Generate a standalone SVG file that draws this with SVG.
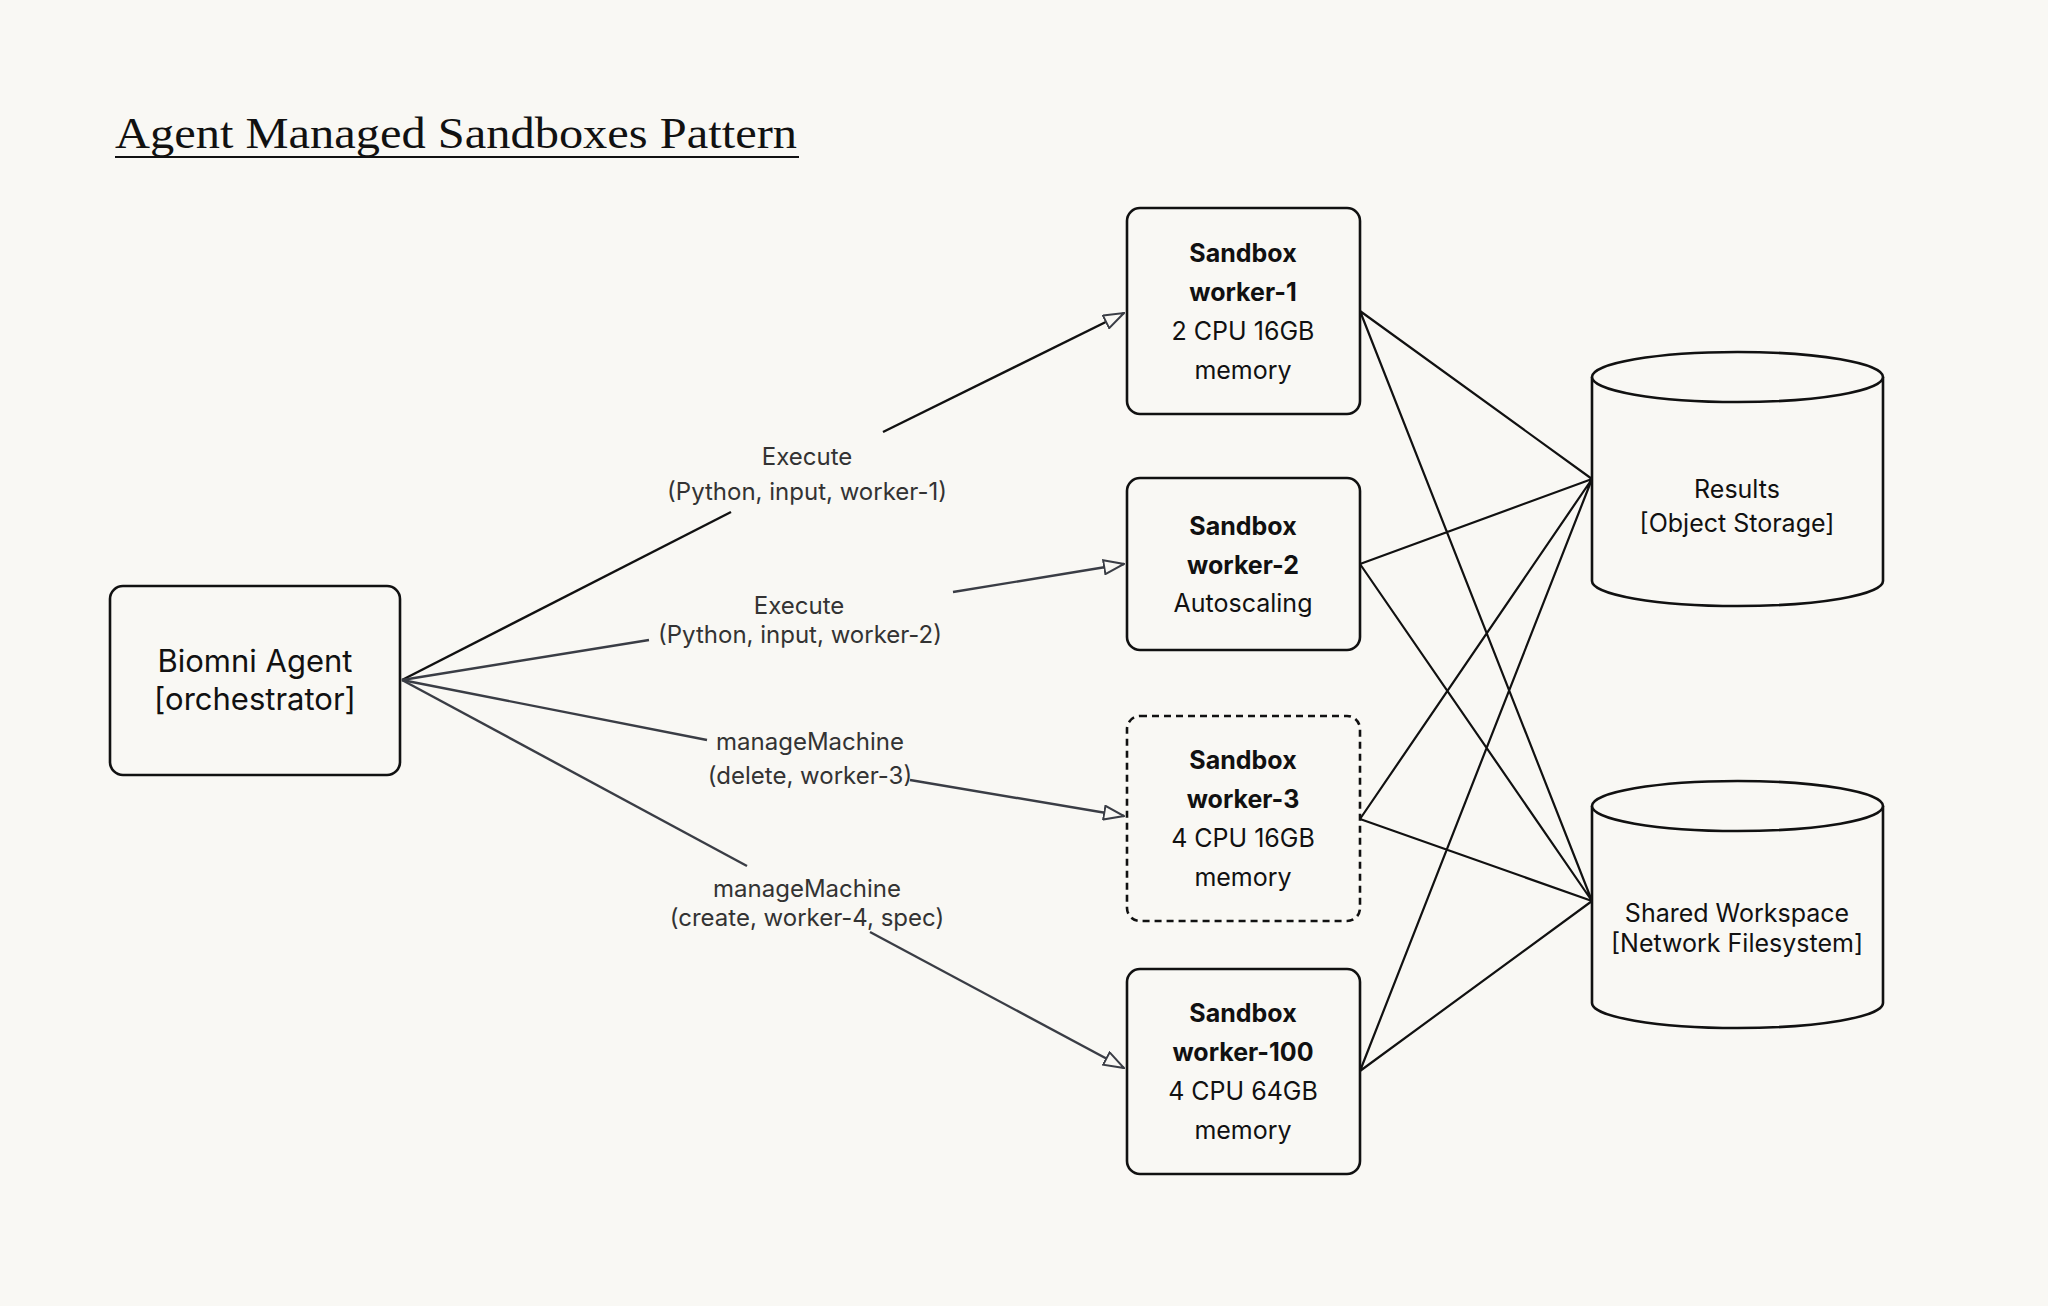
<svg xmlns="http://www.w3.org/2000/svg" width="2048" height="1306" viewBox="0 0 2048 1306">
<defs>
<style>
.box{fill:#f9f8f4;stroke:#111;stroke-width:2.6}
.t{font-family:Inter,"Liberation Sans",sans-serif;fill:#111;text-anchor:middle}
.lbl{font-family:Inter,"Liberation Sans",sans-serif;fill:#333;text-anchor:middle;font-size:24px}
.ln{stroke:#111;stroke-width:2.2;fill:none}
.ar{stroke:#3a3d45;stroke-width:2.4;fill:none}
</style>
<marker id="ah" markerWidth="22" markerHeight="16" refX="21" refY="8" orient="auto" markerUnits="userSpaceOnUse">
<path d="M1,1 L21,8 L1,15 Z" fill="#f9f8f4" stroke="#3a3d45" stroke-width="2"/>
</marker>
</defs>
<rect width="2048" height="1306" fill="#f9f8f4"/>
<g id="title">
<text x="115" y="148" font-family="'Liberation Serif','DejaVu Serif',serif" font-size="45" fill="#111" textLength="682" lengthAdjust="spacingAndGlyphs">Agent Managed Sandboxes Pattern</text>
<line x1="115" y1="157" x2="799" y2="157" stroke="#111" stroke-width="2"/>
</g>
<g id="connectors">
<path class="ar" style="stroke:#111" d="M402,680 L731,512"/>
<path class="ar" style="stroke:#111" d="M883,432 L1124,313" marker-end="url(#ah)"/>
<path class="ar" d="M402,680 L649,640"/>
<path class="ar" d="M953,592 L1124,564" marker-end="url(#ah)"/>
<path class="ar" d="M402,680 L707,740"/>
<path class="ar" d="M910,780 L1124,816" marker-end="url(#ah)"/>
<path class="ar" d="M402,680 L747,866"/>
<path class="ar" d="M870,932 L1124,1068" marker-end="url(#ah)"/>
<text class="lbl" x="807" y="465">Execute</text>
<text class="lbl" x="807" y="500">(Python, input, worker-1)</text>
<text class="lbl" x="799" y="614">Execute</text>
<text class="lbl" x="800" y="643">(Python, input, worker-2)</text>
<text class="lbl" x="810" y="750">manageMachine</text>
<text class="lbl" x="810" y="784">(delete, worker-3)</text>
<text class="lbl" x="807" y="897">manageMachine</text>
<text class="lbl" x="807" y="926">(create, worker-4, spec)</text>
<path class="ln" d="M1360,311 L1592,479 M1360,311 L1592,901 M1360,564 L1592,479 M1360,564 L1592,901 M1360,819 L1592,479 M1360,819 L1592,901 M1360,1071 L1592,479 M1360,1071 L1592,901"/>
</g>
<g id="biomni">
<rect class="box" x="110" y="586" width="290" height="189" rx="13"/>
<text class="t" x="255" y="672" font-size="31">Biomni Agent</text>
<text class="t" x="255" y="710" font-size="31">[orchestrator]</text>
</g>
<g id="worker1">
<rect class="box" x="1127" y="208" width="233" height="206" rx="13"/>
<text class="t" x="1243" y="262" font-size="25" font-weight="bold">Sandbox</text>
<text class="t" x="1243" y="301" font-size="25" font-weight="bold">worker-1</text>
<text class="t" x="1243" y="340" font-size="25">2 CPU 16GB</text>
<text class="t" x="1243" y="379" font-size="25">memory</text>
</g>
<g id="worker2">
<rect class="box" x="1127" y="478" width="233" height="172" rx="13"/>
<text class="t" x="1243" y="535" font-size="25" font-weight="bold">Sandbox</text>
<text class="t" x="1243" y="574" font-size="25" font-weight="bold">worker-2</text>
<text class="t" x="1243" y="612" font-size="25">Autoscaling</text>
</g>
<g id="worker3">
<rect class="box" x="1127" y="716" width="233" height="205" rx="13" stroke-dasharray="7,5"/>
<text class="t" x="1243" y="769" font-size="25" font-weight="bold">Sandbox</text>
<text class="t" x="1243" y="808" font-size="25" font-weight="bold">worker-3</text>
<text class="t" x="1243" y="847" font-size="25">4 CPU 16GB</text>
<text class="t" x="1243" y="886" font-size="25">memory</text>
</g>
<g id="worker100">
<rect class="box" x="1127" y="969" width="233" height="205" rx="13"/>
<text class="t" x="1243" y="1022" font-size="25" font-weight="bold">Sandbox</text>
<text class="t" x="1243" y="1061" font-size="25" font-weight="bold">worker-100</text>
<text class="t" x="1243" y="1100" font-size="25">4 CPU 64GB</text>
<text class="t" x="1243" y="1139" font-size="25">memory</text>
</g>
<g id="results">
<path class="box" d="M1592,377 L1592,581 A145.5,25 0 0 0 1883,581 L1883,377"/>
<ellipse class="box" cx="1737.5" cy="377" rx="145.5" ry="25"/>
<text class="t" x="1737" y="498" font-size="25">Results</text>
<text class="t" x="1737" y="532" font-size="25">[Object Storage]</text>
</g>
<g id="shared">
<path class="box" d="M1592,806 L1592,1003 A145.5,25 0 0 0 1883,1003 L1883,806"/>
<ellipse class="box" cx="1737.5" cy="806" rx="145.5" ry="25"/>
<text class="t" x="1737" y="922" font-size="25">Shared Workspace</text>
<text class="t" x="1737" y="952" font-size="25">[Network Filesystem]</text>
</g>
</svg>
